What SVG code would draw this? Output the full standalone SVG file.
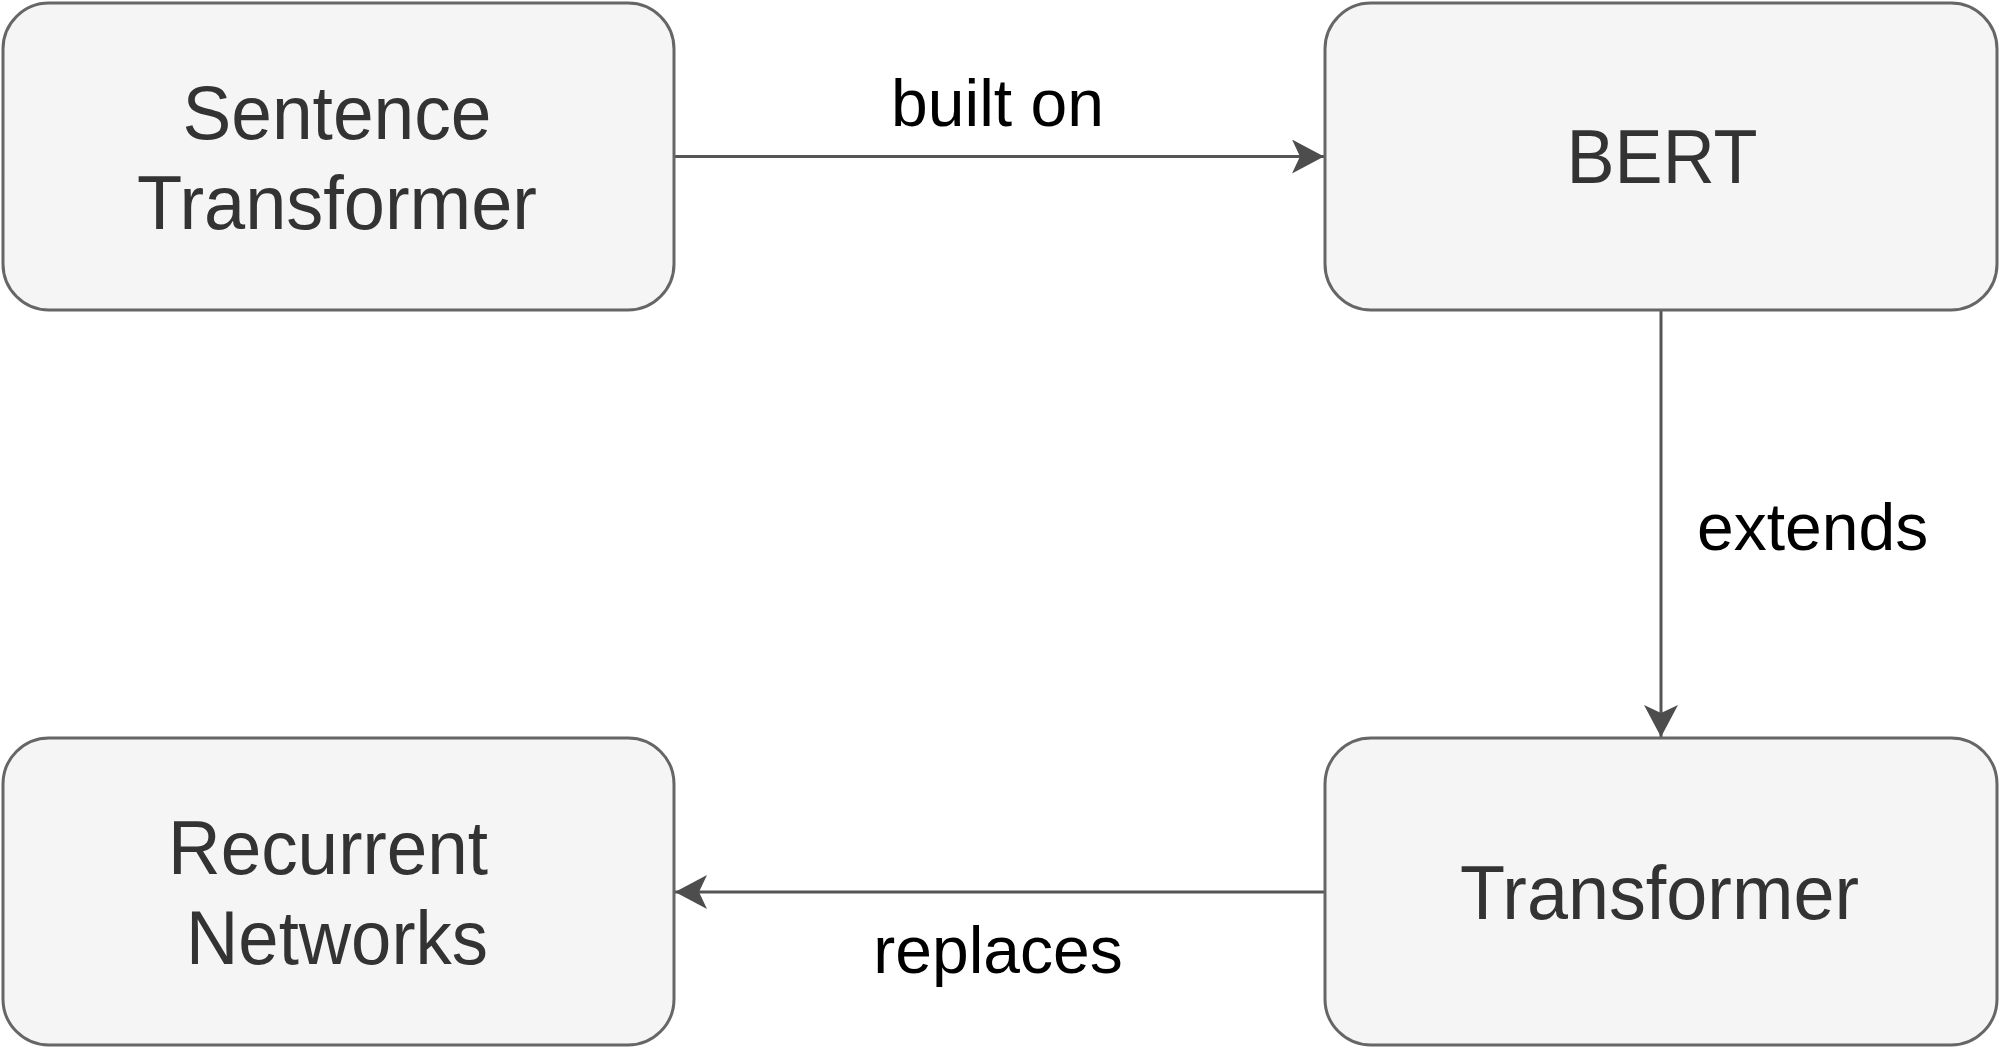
<svg xmlns="http://www.w3.org/2000/svg" width="2000" height="1048" viewBox="0 0 2000 1048">
  <style>
    .box { fill: #f5f5f5; stroke: #666666; stroke-width: 3; }
    .ntext { font-family: "Liberation Sans", Arial, sans-serif; font-size: 76px; fill: #333333; text-anchor: middle; }
    .edge { fill: none; stroke: #555555; stroke-width: 3; }
    .ltext { font-family: "Liberation Sans", Arial, sans-serif; font-size: 66px; fill: #000000; }
  </style>
  <defs>
    <marker id="arrow" markerUnits="userSpaceOnUse" viewBox="0 0 34 34" refX="33" refY="17" markerWidth="34" markerHeight="34" orient="auto">
      <path d="M33,17 L1,0 L9,17 L1,34 Z" fill="#4d4d4d"/>
    </marker>
  </defs>
  <rect width="2000" height="1048" fill="#ffffff"/>
  <g id="connectors">
    <path class="edge" d="M674,156.5 L1324,156.5" marker-end="url(#arrow)"/>
    <text class="ltext" x="997.5" y="126" text-anchor="middle">built on</text>
    <path class="edge" d="M1661,310 L1661,737" marker-end="url(#arrow)"/>
    <text class="ltext" x="1697" y="550">extends</text>
    <path class="edge" d="M1325,892 L675,892" marker-end="url(#arrow)"/>
    <text class="ltext" x="998" y="973" text-anchor="middle">replaces</text>
  </g>
  <g id="node-sentence-transformer">
    <rect class="box" x="3" y="3" width="671" height="307" rx="46" ry="46"/>
    <text class="ntext" x="337" y="138.5" textLength="309" lengthAdjust="spacingAndGlyphs">Sentence</text>
    <text class="ntext" x="337" y="228.5" textLength="400" lengthAdjust="spacingAndGlyphs">Transformer</text>
  </g>
  <g id="node-bert">
    <rect class="box" x="1325" y="3" width="672" height="307" rx="46" ry="46"/>
    <text class="ntext" x="1662" y="182.5" textLength="191" lengthAdjust="spacingAndGlyphs">BERT</text>
  </g>
  <g id="node-transformer">
    <rect class="box" x="1325" y="738" width="672" height="307" rx="46" ry="46"/>
    <text class="ntext" x="1659.5" y="918.5" textLength="399" lengthAdjust="spacingAndGlyphs">Transformer</text>
  </g>
  <g id="node-recurrent-networks">
    <rect class="box" x="3" y="738" width="671" height="307" rx="46" ry="46"/>
    <text class="ntext" x="328" y="873.5" textLength="320" lengthAdjust="spacingAndGlyphs">Recurrent</text>
    <text class="ntext" x="337" y="963.5" textLength="302" lengthAdjust="spacingAndGlyphs">Networks</text>
  </g>
</svg>
